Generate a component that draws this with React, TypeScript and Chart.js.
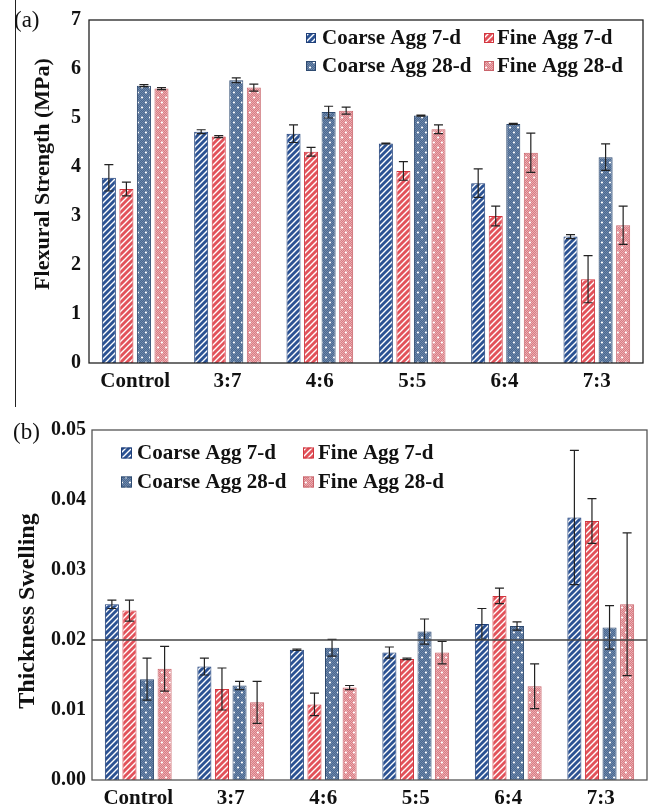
import React, { useEffect, useRef } from "react";
import { Chart, registerables } from "chart.js";
Chart.register(...registerables);

const FONT = "'Liberation Serif', 'Times New Roman', serif";

const categories = ["Control", "3:7", "4:6", "5:5", "6:4", "7:3"];
const seriesNames = ["Coarse Agg 7-d", "Fine Agg 7-d", "Coarse Agg 28-d", "Fine Agg 28-d"];

// (a) Flexural strength (MPa)
const flexCoarse7 = [3.78, 4.72, 4.68, 4.48, 3.67, 2.58];
const flexCoarse7Err = [0.27, 0.04, 0.18, 0.01, 0.29, 0.04];
const flexFine7 = [3.55, 4.62, 4.31, 3.92, 3.0, 1.71];
const flexFine7Err = [0.14, 0.02, 0.09, 0.19, 0.2, 0.48];
const flexCoarse28 = [5.66, 5.77, 5.12, 5.05, 4.88, 4.2];
const flexCoarse28Err = [0.02, 0.05, 0.12, 0.01, 0.01, 0.27];
const flexFine28 = [5.6, 5.62, 5.15, 4.77, 4.29, 2.81];
const flexFine28Err = [0.02, 0.07, 0.07, 0.09, 0.4, 0.39];
const flexTicks = [0, 1, 2, 3, 4, 5, 6, 7];

// (b) Thickness swelling
const swellCoarse7 = [0.0251, 0.0162, 0.0186, 0.0182, 0.0223, 0.0375];
const swellCoarse7Err = [0.0006, 0.0012, 0.0001, 0.0008, 0.0022, 0.0096];
const swellFine7 = [0.0242, 0.013, 0.0108, 0.0173, 0.0263, 0.037];
const swellFine7Err = [0.0015, 0.003, 0.0016, 0.0001, 0.0011, 0.0032];
const swellCoarse28 = [0.0144, 0.0135, 0.0189, 0.0212, 0.022, 0.0218];
const swellCoarse28Err = [0.003, 0.0006, 0.0012, 0.0018, 0.0006, 0.0031];
const swellFine28 = [0.0159, 0.0111, 0.0132, 0.0182, 0.0134, 0.0251];
const swellFine28Err = [0.0032, 0.003, 0.0003, 0.0016, 0.0032, 0.0102];
const swellTicks = [0, 0.01, 0.02, 0.03, 0.04, 0.05];
const swellLimit = 0.02;

function makeHatch(bg: string, line: string): CanvasPattern | string {
  const c = document.createElement("canvas");
  const s = 6;
  c.width = s;
  c.height = s;
  const g = c.getContext("2d");
  if (!g) return bg;
  g.fillStyle = bg;
  g.fillRect(0, 0, s, s);
  g.strokeStyle = line;
  g.lineWidth = 1.4;
  g.beginPath();
  g.moveTo(-1, s + 1);
  g.lineTo(s + 1, -1);
  g.moveTo(-s / 2 - 1, s / 2 + 1);
  g.lineTo(s / 2 + 1, -s / 2 - 1);
  g.moveTo(s / 2 - 1, s * 1.5 + 1);
  g.lineTo(s * 1.5 + 1, s / 2 - 1);
  g.stroke();
  return g.createPattern(c, "repeat") || bg;
}

function makeDots(bg: string, light: string): CanvasPattern | string {
  const c = document.createElement("canvas");
  const w = 8, h = 10;
  c.width = w;
  c.height = h;
  const g = c.getContext("2d");
  if (!g) return bg;
  g.fillStyle = bg;
  g.fillRect(0, 0, w, h);
  g.fillStyle = light;
  for (let yy = 0; yy < h; yy++) {
    for (let xx = 0; xx < w; xx++) {
      if ((xx + yy) % 2 === 0) g.fillRect(xx, yy, 1, 1);
    }
  }
  g.fillStyle = "#ffffff";
  g.beginPath();
  g.arc(2, 2.5, 1.1, 0, Math.PI * 2);
  g.arc(6, 7.5, 1.1, 0, Math.PI * 2);
  g.fill();
  return g.createPattern(c, "repeat") || bg;
}

const errorBarPlugin = {
  id: "errorBars",
  afterDatasetsDraw(chart: any) {
    const ctx = chart.ctx;
    const y = chart.scales.y;
    chart.data.datasets.forEach((ds: any, i: number) => {
      const errs = ds.errors;
      if (!errs) return;
      const meta = chart.getDatasetMeta(i);
      meta.data.forEach((el: any, j: number) => {
        const v = ds.data[j];
        const e = errs[j];
        const x = el.x;
        const top = y.getPixelForValue(v + e);
        const bot = y.getPixelForValue(v - e);
        ctx.save();
        ctx.strokeStyle = "#222";
        ctx.lineWidth = 1.2;
        ctx.beginPath();
        ctx.moveTo(x, top);
        ctx.lineTo(x, bot);
        ctx.moveTo(x - 4.5, top);
        ctx.lineTo(x + 4.5, top);
        ctx.moveTo(x - 4.5, bot);
        ctx.lineTo(x + 4.5, bot);
        ctx.stroke();
        ctx.restore();
      });
    });
  },
};

const framePlugin = {
  id: "frame",
  afterDatasetsDraw(chart: any, _args: any, opts: any) {
    const ctx = chart.ctx;
    const a = chart.chartArea;
    ctx.save();
    if (opts.refValue !== undefined && opts.refValue !== null) {
      const yy = chart.scales.y.getPixelForValue(opts.refValue);
      ctx.strokeStyle = opts.refColor || "#444";
      ctx.lineWidth = 1.5;
      ctx.beginPath();
      ctx.moveTo(a.left, yy);
      ctx.lineTo(a.right, yy);
      ctx.stroke();
    }
    ctx.strokeStyle = opts.color || "#222";
    ctx.lineWidth = opts.width || 1.2;
    ctx.strokeRect(a.left, a.top, a.right - a.left, a.bottom - a.top);
    ctx.restore();
  },
};

const customLegendPlugin = {
  id: "customLegend",
  afterDraw(chart: any, _args: any, opts: any) {
    const ctx = chart.ctx;
    const ds = chart.data.datasets;
    ctx.save();
    ctx.font = `bold ${opts.fontSize}px ${FONT}`;
    ctx.textBaseline = "middle";
    ctx.fillStyle = "#111";
    ds.forEach((d: any, i: number) => {
      const col = i % 2;
      const row = Math.floor(i / 2);
      const bx = opts.boxX[col];
      const tx = opts.textX[col];
      const cy = opts.rowY[row];
      const bs = opts.boxSize;
      ctx.fillStyle = d.backgroundColor;
      ctx.fillRect(bx, cy - bs / 2, bs, bs);
      ctx.strokeStyle = d.borderColor;
      ctx.lineWidth = 1;
      ctx.strokeRect(bx + 0.5, cy - bs / 2 + 0.5, bs - 1, bs - 1);
      ctx.fillStyle = "#111";
      ctx.fillText(d.label, tx, cy + 1);
    });
    ctx.restore();
  },
};

const yTitlePlugin = {
  id: "yTitle",
  afterDraw(chart: any, _args: any, opts: any) {
    const ctx = chart.ctx;
    ctx.save();
    ctx.translate(opts.x, opts.y);
    ctx.rotate(-Math.PI / 2);
    ctx.font = `bold ${opts.fontSize}px ${FONT}`;
    ctx.fillStyle = "#111";
    ctx.textAlign = "center";
    ctx.textBaseline = "middle";
    ctx.fillText(opts.text, 0, 0);
    ctx.restore();
  },
};

type PanelProps = {
  top: number;
  height: number;
  kind: "flex" | "swell";
};

function Panel({ top, height, kind }: PanelProps) {
  const ref = useRef<HTMLCanvasElement | null>(null);
  useEffect(() => {
    const canvas = ref.current;
    if (!canvas) return;
    const isFlex = kind === "flex";
    const fills = [
      makeHatch("#2b5293", "#ffffff"),
      makeHatch("#e2525a", "#ffffff"),
      makeDots("#4a6890", "#6d87aa"),
      makeDots("#d67e84", "#eeaab0"),
    ];
    const borders = ["#1f3f78", "#d2363f", "#2e4a70", "#c9646b"];
    const values = isFlex
      ? [flexCoarse7, flexFine7, flexCoarse28, flexFine28]
      : [swellCoarse7, swellFine7, swellCoarse28, swellFine28];
    const errors = isFlex
      ? [flexCoarse7Err, flexFine7Err, flexCoarse28Err, flexFine28Err]
      : [swellCoarse7Err, swellFine7Err, swellCoarse28Err, swellFine28Err];
    const ticks = isFlex ? flexTicks : swellTicks;

    const datasets = seriesNames.map((name, i) => ({
      label: name,
      data: values[i],
      errors: errors[i],
      backgroundColor: fills[i],
      borderColor: borders[i],
      borderWidth: 1,
      categoryPercentage: 0.76,
      barPercentage: 0.8,
    }));

    const chart = new Chart(canvas, {
      type: "bar",
      data: { labels: categories, datasets: datasets as any },
      plugins: [errorBarPlugin, framePlugin, customLegendPlugin, yTitlePlugin],
      options: {
        animation: false,
        responsive: false,
        maintainAspectRatio: false,
        layout: {
          padding: isFlex
            ? { left: 0, top: 15, right: 11, bottom: 0 }
            : { left: 0, top: 30, right: 7, bottom: 0 },
        },
        plugins: {
          legend: { display: false },
          tooltip: { enabled: false },
          frame: isFlex
            ? { color: "#222", width: 1.3 }
            : { color: "#555", width: 1.3, refValue: swellLimit, refColor: "#444" },
          customLegend: isFlex
            ? { fontSize: 21, boxSize: 10, boxX: [306, 484], textX: [322, 497], rowY: [38, 66] }
            : { fontSize: 21, boxSize: 11, boxX: [121, 303], textX: [137, 318], rowY: [53, 82] },
          yTitle: isFlex
            ? { text: "Flexural Strength (MPa)", x: 43, y: 174, fontSize: 22 }
            : { text: "Thickness Swelling", x: 28, y: 211, fontSize: 24 },
        } as any,
        scales: {
          x: {
            grid: { display: false, drawTicks: false },
            border: { display: false },
            ticks: {
              color: "#111",
              padding: 6,
              font: { family: FONT, size: 21, weight: "bold" },
            },
            afterFit: (s: any) => {
              s.height = isFlex ? 37 : 28;
            },
          },
          y: {
            min: 0,
            max: isFlex ? 7 : 0.05,
            grid: { display: false, drawTicks: false },
            border: { display: false },
            afterBuildTicks: (s: any) => {
              s.ticks = ticks.map((v) => ({ value: v }));
            },
            ticks: {
              color: "#111",
              padding: isFlex ? 8 : 6,
              font: { family: FONT, size: 20, weight: "bold" },
              callback: (v: any) => (isFlex ? String(v) : Number(v).toFixed(2)),
            },
            afterFit: (s: any) => {
              s.width = isFlex ? 89 : 92;
            },
          },
        },
      },
    });
    return () => chart.destroy();
  }, [kind]);

  return (
    <canvas
      ref={ref}
      width={654}
      height={height}
      style={{ position: "absolute", left: 0, top, width: 654, height }}
    />
  );
}

export default function App() {
  return (
    <div style={{ position: "absolute", left: 0, top: 0, width: 654, height: 808, background: "#fff", overflow: "hidden" }}>
      <Panel top={0} height={400} kind="flex" />
      <Panel top={400} height={408} kind="swell" />
      <div style={{ position: "absolute", left: 15, top: 0, width: 1, height: 407, background: "#222" }} />
      <span style={{ position: "absolute", left: 14, top: 6, fontFamily: FONT, fontSize: 23, lineHeight: "28px", color: "#111" }}>(a)</span>
      <span style={{ position: "absolute", left: 13, top: 418, fontFamily: FONT, fontSize: 23, lineHeight: "28px", color: "#111" }}>(b)</span>
    </div>
  );
}
